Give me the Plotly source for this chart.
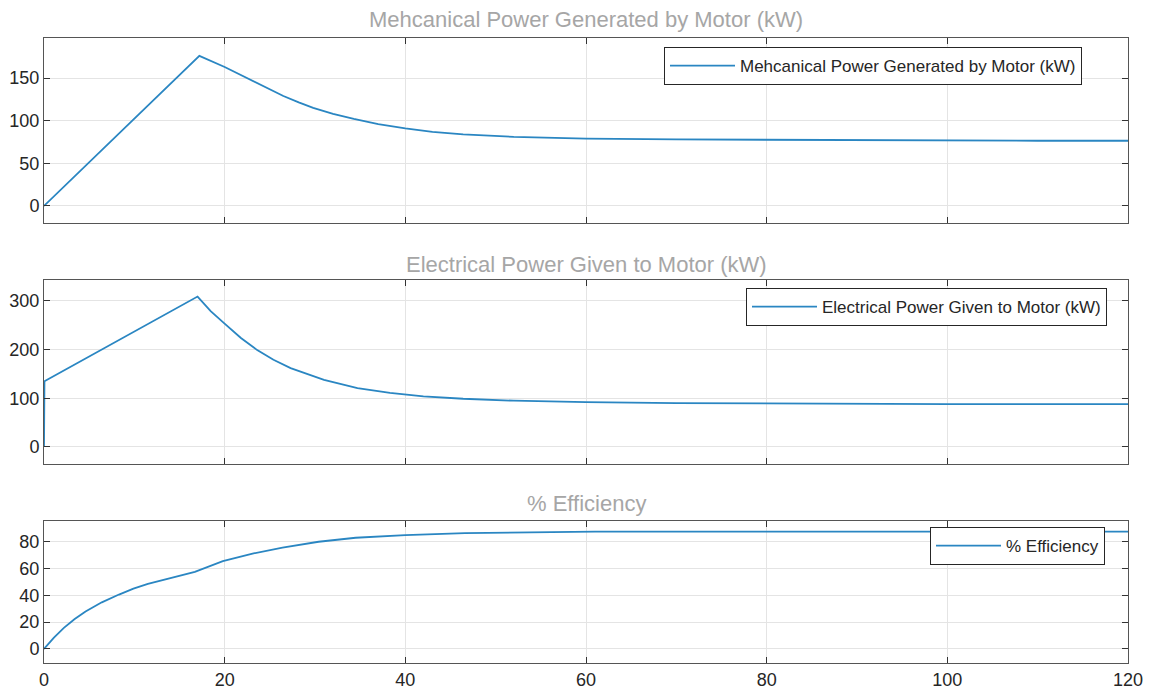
import plotly.graph_objects as go

# ---- data ----
t_mech = [0, 17.2, 20, 22.5, 24.5, 26.5, 28.2, 29.8, 32, 34.3, 37, 40, 43, 46.4, 52, 60, 70, 80, 90, 100, 110, 120]
p_mech = [0, 176, 163, 150, 139, 129, 121.5, 115, 108, 102, 96, 91, 87, 84, 81, 79, 78, 77.5, 77, 77, 76.5, 76.5]

t_elec = [0, 0.05, 17, 18.45, 19.9, 21.8, 23.6, 25.4, 27.3, 31, 34.7, 38.3, 42, 46.4,
          52, 60, 70, 80, 90, 100, 110, 120]
p_elec = [0, 135, 309, 279, 255, 224, 199, 179, 162, 138, 121, 111, 104, 99,
          95, 92, 90, 89, 88.5, 88, 88, 88]

t_eff = [0, 1.1, 2.2, 3.4, 4.6, 6.4, 8.3, 9.9, 11.5, 14.3, 16.7, 19.8, 23.2, 26.4, 30.4, 34.5, 40,
         46.6, 54.6, 61, 80, 100, 120]
eff = [0, 8.5, 15.7, 22.3, 28, 34.8, 40.6, 45, 48.6, 53.6, 57.6, 65.6, 71.3, 75.6, 80, 83, 85,
       86.5, 87.3, 87.5, 87.6, 87.6, 87.6]

titles = ["Mehcanical Power Generated by Motor (kW)",
          "Electrical Power Given to Motor (kW)",
          "% Efficiency"]
x_ticks = [0, 20, 40, 60, 80, 100, 120]
y_ticks = [[0, 50, 100, 150], [0, 100, 200, 300], [0, 20, 40, 60, 80]]
y_ranges = [[-20, 197], [-35, 343], [-10.5, 95.5]]

W, H = 1149, 689
FONT = "Arial, Liberation Sans, sans-serif"
LINE = "#2a86c2"

# panel pixel boxes (top, bottom)
boxes = [(38, 223), (280, 464), (521, 663)]
xdom = [44 / W, 1128 / W]
ydoms = [[1 - b / H, 1 - t / H] for t, b in boxes]

fig = go.Figure()
series = [(t_mech, p_mech), (t_elec, p_elec), (t_eff, eff)]
for i, (tx, ty) in enumerate(series):
    sfx = "" if i == 0 else str(i + 1)
    fig.add_trace(go.Scatter(
        x=tx, y=ty, mode="lines", name=titles[i],
        line=dict(color=LINE, width=1.8),
        xaxis="x" + sfx, yaxis="y" + sfx,
        legend="legend" + sfx, showlegend=True,
    ))

axis_common = dict(
    showline=True, linecolor="#555555", linewidth=1, mirror="ticks",
    ticks="inside", ticklen=6, tickcolor="#333333", automargin=False,
    showgrid=True, gridcolor="#e4e4e4", gridwidth=1,
    zeroline=False, tickfont=dict(family=FONT, size=18, color="#262626"),
)

layout = dict(
    width=W, height=H, margin=dict(l=0, r=0, t=0, b=0),
    paper_bgcolor="white", plot_bgcolor="white",
    font=dict(family=FONT),
)

for i in range(3):
    sfx = "" if i == 0 else str(i + 1)
    layout["xaxis" + sfx] = dict(
        axis_common, domain=xdom, range=[0, 120], tickvals=x_ticks,
        showticklabels=(i == 2), anchor="y" + sfx,
    )
    layout["yaxis" + sfx] = dict(
        axis_common, domain=ydoms[i], range=y_ranges[i], tickvals=y_ticks[i],
        anchor="x" + sfx,
    )

legend_pos = [(1082, 47), (1107, 288), (1105, 527)]
for i in range(3):
    sfx = "" if i == 0 else str(i + 1)
    xr, yt = legend_pos[i]
    layout["legend" + sfx] = dict(
        x=xr / W, y=1 - yt / H, xanchor="right", yanchor="top",
        xref="paper", yref="paper", itemwidth=65,
        bgcolor="white", bordercolor="#262626", borderwidth=1,
        font=dict(family=FONT, size=17, color="#262626"),
    )

fig.update_layout(**layout)

title_y = [20, 264, 503]
for i in range(3):
    fig.add_annotation(
        text=titles[i], x=(44 + 1128) / 2 / W, y=1 - title_y[i] / H,
        xref="paper", yref="paper", showarrow=False,
        xanchor="center", yanchor="middle",
        font=dict(family=FONT, size=22, color="#a6a6a6"),
    )

fig.write_html("out.html")
